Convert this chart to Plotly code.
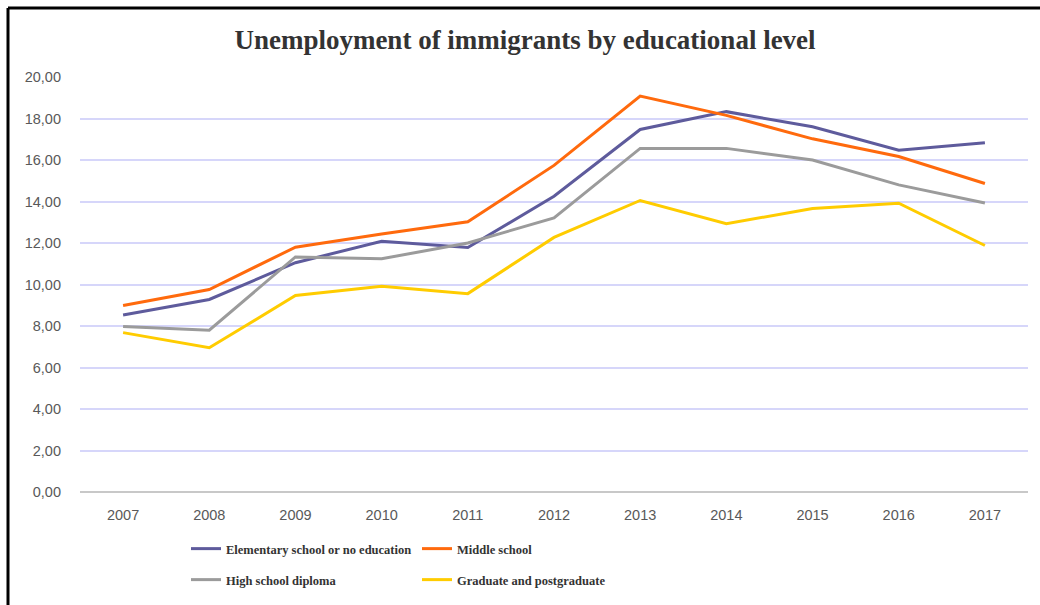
import plotly.graph_objects as go

years = ["2007", "2008", "2009", "2010", "2011", "2012", "2013", "2014", "2015", "2016", "2017"]
elementary = [8.53, 9.28, 11.05, 12.08, 11.78, 14.25, 17.47, 18.33, 17.6, 16.47, 16.83]
middle = [8.99, 9.76, 11.8, 12.43, 13.02, 15.74, 19.08, 18.15, 17.02, 16.17, 14.87]
high = [7.98, 7.8, 11.33, 11.24, 12.0, 13.21, 16.56, 16.56, 16.0, 14.8, 13.93]
graduate = [7.68, 6.95, 9.47, 9.92, 9.56, 12.27, 14.05, 12.93, 13.66, 13.92, 11.88]

series_names = ["Elementary school or no education", "Middle school",
                "High school diploma", "Graduate and postgraduate"]
colors = ["#5E5B9C", "#FF6A0D", "#9B9B9B", "#FFCC00"]
legends = ["legend", "legend", "legend2", "legend2"]
y_ticks = [0, 2, 4, 6, 8, 10, 12, 14, 16, 18, 20]

W, H = 1040, 605
L, R, T, B = 80, 12, 77, 113
pw, ph = W - L - R, H - T - B

fig = go.Figure()
for name, vals, col, lg in zip(series_names, [elementary, middle, high, graduate], colors, legends):
    fig.add_trace(go.Scatter(x=years, y=vals, mode="lines", name=name,
                             line=dict(color=col, width=3), legend=lg))

def px_x(p):
    return (p - L) / pw

def px_y(p):
    return (H - B - p) / ph

def cy(p):
    return 1 - p / H

legend_font = dict(family="Liberation Serif", size=12.5, color="#333333", weight="bold")
tick_font = dict(family="Liberation Sans", size=14.5, color="#595959")
fig.update_layout(
    width=W, height=H,
    margin=dict(l=L, r=R, t=T, b=B, autoexpand=False),
    paper_bgcolor="white", plot_bgcolor="white",
    separators=",.",
    title=dict(text="<b>Unemployment of immigrants by educational level</b>",
               x=525 / W, xanchor="center", y=cy(40), yanchor="middle",
               font=dict(family="Liberation Serif", size=27, color="#333333")),
    xaxis=dict(type="category", range=[-0.5, 10.5], showgrid=False,
               showline=False, zeroline=False, ticks="",
               tickfont=tick_font, ticklabelstandoff=12),
    yaxis=dict(range=[0, 20], tickvals=y_ticks, tickformat=".2f",
               showgrid=True, gridcolor="#D6D6FA", gridwidth=1.5,
               zeroline=True, zerolinecolor="#C8C8C8", zerolinewidth=2,
               showline=False, ticks="",
               tickfont=tick_font, ticklabelstandoff=18),
    legend=dict(orientation="h", x=px_x(186), xanchor="left",
                yref="container", y=cy(534), yanchor="top",
                entrywidth=186, entrywidthmode="pixels", font=legend_font,
                itemwidth=30, bgcolor="rgba(0,0,0,0)"),
    legend2=dict(orientation="h", x=px_x(186), xanchor="left",
                 yref="container", y=cy(565), yanchor="top",
                 entrywidth=186, entrywidthmode="pixels", font=legend_font,
                 itemwidth=30, bgcolor="rgba(0,0,0,0)"),
    shapes=[
        dict(type="line", xref="paper", yref="paper", x0=px_x(8), x1=px_x(1045),
             y0=px_y(8), y1=px_y(8), line=dict(color="black", width=3)),
        dict(type="line", xref="paper", yref="paper", x0=px_x(8), x1=px_x(8),
             y0=px_y(8), y1=px_y(610), line=dict(color="black", width=3)),
    ],
    showlegend=True,
)

fig.write_html("out.html")
